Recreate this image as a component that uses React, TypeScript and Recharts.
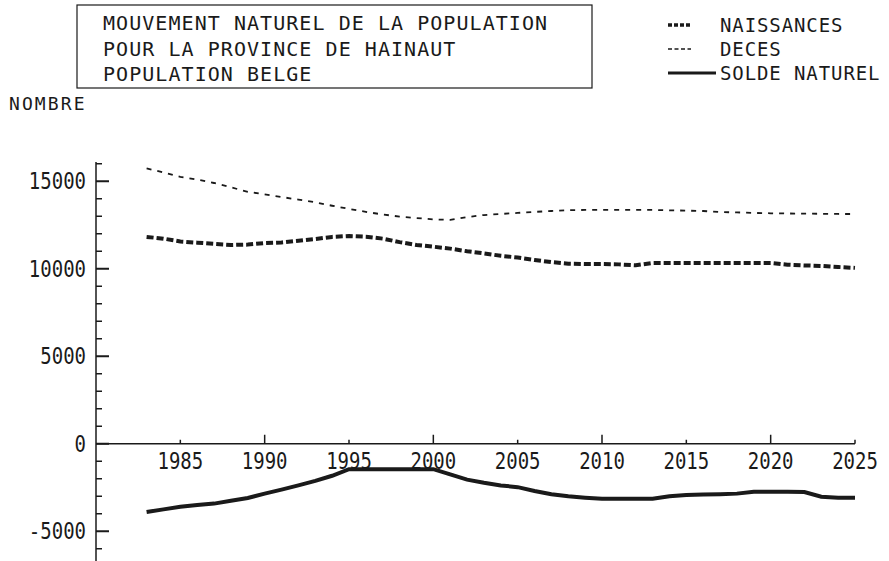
import React from 'react';
import { LineChart, Line, XAxis, YAxis, ReferenceLine, ReferenceDot } from 'recharts';

const years = [1983, 1984, 1985, 1986, 1987, 1988, 1989, 1990, 1991, 1992, 1993, 1994, 1995, 1996, 1997, 1998, 1999, 2000, 2001, 2002, 2003, 2004, 2005, 2006, 2007, 2008, 2009, 2010, 2011, 2012, 2013, 2014, 2015, 2016, 2017, 2018, 2019, 2020, 2021, 2022, 2023, 2024, 2025];

const naissances = [11820, 11720, 11560, 11490, 11420, 11360, 11380, 11470, 11500, 11600, 11700, 11820, 11870, 11830, 11720, 11520, 11360, 11260, 11150, 11000, 10880, 10740, 10640, 10500, 10380, 10290, 10270, 10270, 10250, 10200, 10330, 10330, 10330, 10330, 10330, 10330, 10330, 10330, 10230, 10190, 10160, 10100, 10050];

const deces = [15740, 15500, 15250, 15100, 14900, 14650, 14400, 14250, 14100, 13950, 13800, 13600, 13420, 13250, 13100, 12980, 12900, 12820, 12790, 12950, 13070, 13130, 13190, 13250, 13300, 13350, 13360, 13360, 13360, 13360, 13360, 13340, 13320, 13300, 13240, 13220, 13190, 13170, 13160, 13150, 13140, 13130, 13130];

const solde = [-3900, -3750, -3600, -3500, -3420, -3260, -3100, -2850, -2620, -2380, -2120, -1830, -1450, -1450, -1450, -1450, -1450, -1450, -1750, -2050, -2230, -2380, -2480, -2700, -2880, -3000, -3080, -3140, -3140, -3140, -3140, -3000, -2930, -2900, -2880, -2850, -2740, -2740, -2740, -2760, -3030, -3080, -3080];

const yTicks = [-6000, -5000, -4000, -3000, -2000, -1000, 0, 1000, 2000, 3000, 4000, 5000, 6000, 7000, 8000, 9000, 10000, 11000, 12000, 13000, 14000, 15000, 16000];
const yLabelled = [-5000, 0, 5000, 10000, 15000];
const xTicks = [1985, 1990, 1995, 2000, 2005, 2010, 2015, 2020, 2025];
const xMajor = [1990, 2000, 2010, 2020];

const titleLines = ['MOUVEMENT NATUREL DE LA POPULATION', 'POUR LA PROVINCE DE HAINAUT', 'POPULATION BELGE'];
const legendLabels = ['NAISSANCES', 'DECES', 'SOLDE NATUREL'];
const yAxisTitle = 'NOMBRE';

const data = years.map((year, i) => ({ year, naissances: naissances[i], deces: deces[i], solde: solde[i] }));

const FONT = '"DejaVu Sans Mono", monospace';
const INK = '#1a1a1a';

const YTick = (props: any) => {
  const { x, y, payload } = props;
  const v = payload.value;
  const major = yLabelled.includes(v);
  return (
    <g>
      <line x1={x} x2={x + (major ? 13 : 6)} y1={y} y2={y} stroke={INK} strokeWidth={major ? 2 : 1.5} />
      {major && (
        <text transform={`translate(${x - 10},${y + 8}) scale(1,1.2)`} textAnchor="end" fontFamily={FONT} fontSize={19} fill={INK}>
          {String(v)}
        </text>
      )}
    </g>
  );
};

const makeXTick = (year: number) => (p: any) => {
  const { cx, cy } = p;
  const len = xMajor.includes(year) ? 9 : 4;
  return (
    <g>
      <line x1={cx} x2={cx} y1={cy} y2={cy - len} stroke={INK} strokeWidth={1.5} />
      <text transform={`translate(${cx},${cy + 25}) scale(1,1.2)`} textAnchor="middle" fontFamily={FONT} fontSize={19} fill={INK}>
        {String(year)}
      </text>
    </g>
  );
};

export default function App() {
  return (
    <div style={{ position: 'absolute', left: 0, top: 0, width: 889, height: 561, background: '#fff' }}>
      <LineChart width={889} height={561} data={data} margin={{ top: 162, right: 34, bottom: 0, left: 0 }}>
        <XAxis dataKey="year" type="number" domain={[1980, 2025]} hide />
        <YAxis
          type="number"
          domain={[-6700, 16100]}
          ticks={yTicks}
          interval={0}
          tick={<YTick />}
          tickSize={0}
          tickMargin={0}
          tickLine={false}
          axisLine={{ stroke: INK, strokeWidth: 1.5 }}
          width={96}
          allowDataOverflow
        />
        <ReferenceLine y={0} stroke={INK} strokeWidth={1.5} />
        {xTicks.map((yr) => (
          <ReferenceDot key={yr} x={yr} y={0} r={0} shape={makeXTick(yr)} />
        ))}
        <Line type="linear" dataKey="deces" stroke={INK} strokeWidth={1.8} strokeDasharray="5 6" dot={false} isAnimationActive={false} />
        <Line type="linear" dataKey="naissances" stroke={INK} strokeWidth={4} strokeDasharray="7 3" dot={false} isAnimationActive={false} />
        <Line type="linear" dataKey="solde" stroke={INK} strokeWidth={4} dot={false} isAnimationActive={false} />
      </LineChart>
      <svg width={889} height={561} style={{ position: 'absolute', left: 0, top: 0, pointerEvents: 'none' }}>
        <rect x={77} y={5} width={515} height={83} fill="none" stroke={INK} strokeWidth={1.2} />
        {titleLines.map((t, i) => (
          <text key={t} x={103} y={30 + i * 25.5} fontFamily={FONT} fontSize={20} letterSpacing={1.05} fill={INK}>
            {t}
          </text>
        ))}
        <text x={9} y={110} fontFamily={FONT} fontSize={18} letterSpacing={2.1} fill={INK}>
          {yAxisTitle}
        </text>
        <line x1={668} x2={691} y1={25} y2={25} stroke={INK} strokeWidth={3.5} strokeDasharray="4 2" />
        <line x1={668} x2={691} y1={49} y2={49} stroke={INK} strokeWidth={1.5} strokeDasharray="4 2.5" />
        <line x1={668} x2={716} y1={73} y2={73} stroke={INK} strokeWidth={3} />
        {legendLabels.map((t, i) => (
          <text key={t} x={720} y={32 + i * 24} fontFamily={FONT} fontSize={19} letterSpacing={0.9} fill={INK}>
            {t}
          </text>
        ))}
      </svg>
    </div>
  );
}
